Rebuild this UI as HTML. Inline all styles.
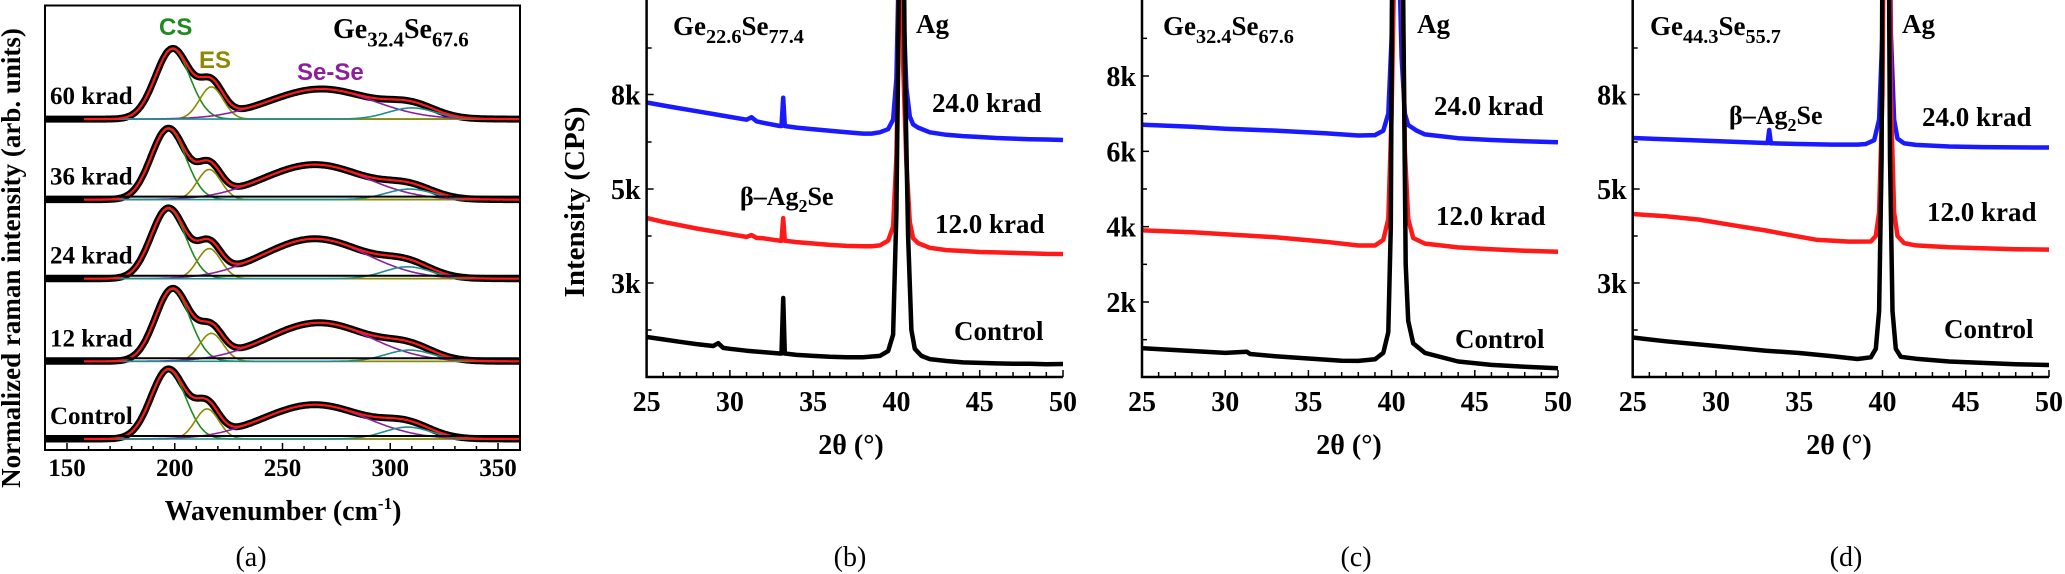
<!DOCTYPE html>
<html><head><meta charset="utf-8"><style>
html,body{margin:0;padding:0;background:#fff;}
svg{display:block;font-family:"Liberation Serif",serif;}
.b{font-weight:bold;}
</style></head><body>
<svg id="fig" width="2065" height="574" viewBox="0 0 2065 574" xmlns="http://www.w3.org/2000/svg"></svg>
<script>
// ---------- Panel (a) Raman data (Gaussian fit parameters) ----------
const ramanLabels=['60 krad','36 krad','24 krad','12 krad','Control'];
const ramanOffsets=[4.57,3.42,2.29,1.11,0];
const csCenter=[199,197,197,199,197];
const csHeight=[1.0,1.01,1.0,1.03,0.99];
const esCenter=[217,216,216,217,215];
const esHeight=[0.46,0.43,0.43,0.40,0.43];
const seCenter=[268,265,265,267,265];
const seHeight=[0.43,0.50,0.57,0.55,0.49];
const tCenter=[310,309,308,309,308];
const tHeight=[0.16,0.15,0.17,0.16,0.17];
const widths=[8,5.5,24,11];
const ramanTicks=[150,200,250,300,350];

// ---------- XRD data ----------
const bBlueX=[25,26,27,28,29,30,31,31.3,31.6,32,33,33.1,33.2,33.3,34,35,36,37,38,38.5,39,39.5,39.8,40.0,40.1,40.25,40.4,40.6,40.8,41.0,41.3,42,43,44,45,46,47,48,49,50];
const bBlueY=[7746,7650,7560,7470,7380,7290,7200,7280,7150,7100,7000,7000,7900,7000,6950,6900,6850,6800,6760,6760,6800,6900,7200,8500,11000,20000,11000,8200,7300,7050,6950,6800,6720,6680,6650,6620,6600,6580,6570,6556];
const bRedX=bBlueX;
const bRedY=[4383,4300,4230,4160,4100,4040,3980,4020,3960,3950,3900,3900,4380,3900,3870,3840,3810,3790,3780,3780,3800,3900,4200,6000,9000,20000,9000,5800,4300,3950,3850,3750,3700,3680,3660,3650,3640,3630,3620,3617];
const bBlackX=[25,26,27,28,29,29.3,29.6,30,31,32,33,33.1,33.2,33.3,34,35,36,37,38,39,39.5,39.8,40.0,40.1,40.3,40.5,40.7,40.9,41.1,41.5,42,43,44,45,46,47,48,49,50];
const bBlackY=[1851,1800,1750,1700,1660,1720,1620,1600,1560,1530,1500,1500,2681,1500,1470,1450,1430,1420,1420,1450,1550,1900,4500,9000,20000,9000,4000,2000,1600,1450,1380,1340,1310,1300,1290,1280,1280,1270,1277];

const cBlueX=[25,28,30,33,36,38,39,39.5,39.8,40.0,40.1,40.25,40.4,40.6,40.8,41.0,41.5,42,44,46,48,50];
const cBlueY=[6707,6650,6600,6550,6480,6420,6430,6550,7000,9000,12000,20000,12000,8500,7000,6700,6550,6450,6350,6300,6270,6240];
const cRedX=[25,28,30,33,36,38,39,39.5,39.8,40.0,40.2,40.4,40.6,40.8,41.0,41.3,42,44,46,48,50];
const cRedY=[3904,3850,3800,3720,3600,3500,3500,3650,4200,7000,12000,20000,12000,6000,4200,3700,3550,3450,3400,3360,3333];
const cBlackX=[25,28,30,31.3,31.5,33,35,37,38,39,39.5,39.8,39.95,40.05,40.15,40.6,40.7,40.85,41.0,41.3,42,44,46,48,50];
const cBlackY=[773,700,650,680,620,560,500,440,436,480,650,1200,4000,12000,20000,20000,10000,3000,1500,900,650,420,330,280,240];

const dBlueX=[25,28,31,33,33.1,33.2,33.3,35,37,38.5,39,39.5,39.8,40.0,40.15,40.35,40.5,40.7,40.9,41.3,42,44,46,48,50];
const dBlueY=[6619,6560,6500,6460,6460,6873,6450,6430,6410,6410,6430,6550,7200,10000,20000,20000,10000,7200,6600,6450,6400,6350,6330,6320,6317];
const dRedX=[25,27,29,31,33,34,36,38,39.3,39.6,39.8,40.0,40.15,40.35,40.5,40.7,40.9,41.3,42,44,46,48,50];
const dRedY=[4468,4420,4350,4230,4117,4050,3921,3880,3883,4000,4500,8000,20000,20000,8000,4500,4000,3850,3800,3760,3740,3720,3711];
const dBlackX=[25,27,30,33,35,37,38.5,39.3,39.6,39.8,39.95,40.05,40.3,40.45,40.6,40.8,41.1,42,44,46,48,50];
const dBlackY=[1840,1760,1660,1560,1510,1440,1383,1420,1600,2400,6000,20000,20000,6000,2400,1600,1430,1390,1330,1300,1270,1255];

const xTicks=[25,30,35,40,45,50];
const bTickVals=[3000,5000,8000];
const bTickLabels=['3k','5k','8k'];
const cTickVals=[2000,4000,6000,8000];
const cTickLabels=['2k','4k','6k','8k'];

const NS='http://www.w3.org/2000/svg';
const svg=document.getElementById('fig');
function mk(tag,attrs,parent){const e=document.createElementNS(NS,tag);for(const k in attrs)e.setAttribute(k,attrs[k]);(parent||svg).appendChild(e);return e;}
function txt(s,x,y,size,anchor,parent,cls,fill){const t=mk('text',{x:x,y:y,'font-size':size,'text-anchor':anchor||'start',fill:fill||'#000'},parent);if(cls)t.setAttribute('class',cls);t.textContent=s;return t;}
function formula(a,b,c,d,x,y,size,parent){
  const t=mk('text',{x:x,y:y,'font-size':size,'class':'b'},parent);
  const parts=[[a,0,size],[b,size*0.3,size*0.75],[c,-size*0.3,size],[d,size*0.3,size*0.75]];
  parts.forEach(p=>{const s=mk('tspan',{dy:p[1],'font-size':p[2]},t);s.textContent=p[0];});
  return t;
}

// ================= Panel (a) =================
const gA=mk('g',{});


const aL=45,aR=520,aT=5.5,aB=450,aBase=439,aUnit=70;
function xA(v){return 67+(v-150)*(498-67)/200;}
function yA(v){return aBase-v*aUnit;}
function gauss(x,c,h,w){return h*Math.exp(-(x-c)*(x-c)/(2*w*w));}
for(let i=0;i<ramanLabels.length;i++){
  const off=ramanOffsets[i];
  const comps=[[csCenter[i],csHeight[i],widths[0],'#1f8a1f'],[esCenter[i],esHeight[i],widths[1],'#8c8a00'],[seCenter[i],seHeight[i],widths[2],'#8e1f9c'],[tCenter[i],tHeight[i],widths[3],'#1f8e8e']];
  function total(x){let s=0;comps.forEach(c=>s+=gauss(x,c[0],c[1],c[2]));return s;}
  let d='';for(let x=140;x<=360;x+=0.5){d+=(x===140?'M':'L')+xA(x).toFixed(1)+','+yA(off+total(x)).toFixed(1);}
  const pb=mk('path',{d:d,fill:'none',stroke:'#000','stroke-width':7,'stroke-linejoin':'round'},gA);
  
  
  comps.forEach((c,j)=>{let dd='';for(let x=158;x<=360;x+=0.5){dd+=(x===158?'M':'L')+xA(x).toFixed(1)+','+yA(off+gauss(x,c[0],c[1],c[2])).toFixed(1);}
    const pc=mk('path',{d:dd,fill:'none',stroke:c[3],'stroke-width':1.6},gA);
    
    });
  let dr='';for(let x=158;x<=360;x+=0.5){dr+=(x===158?'M':'L')+xA(x).toFixed(1)+','+yA(off+total(x)).toFixed(1);}
  const pr=mk('path',{d:dr,fill:'none',stroke:'#ff1a1a','stroke-width':2.2},gA);
  
  
  const lb=txt(ramanLabels[i],50,yA(off)-15,25,'start',gA,'b');
  
  
  if(i>0){const sl=mk('line',{x1:aL,x2:aR,y1:yA(off+0.043),y2:yA(off+0.043),stroke:'#000','stroke-width':2},gA);
    
    }
}
const fa=mk('rect',{x:aL,y:aT,width:aR-aL,height:aB-aT,fill:'none',stroke:'#000','stroke-width':2},gA);


for(let v=150;v<=350;v+=10){const maj=ramanTicks.includes(v);mk('line',{x1:xA(v),x2:xA(v),y1:aB,y2:aB-(maj?7:4),stroke:'#000','stroke-width':1.5},gA);}
ramanTicks.forEach(v=>{const t=txt(String(v),xA(v),476,25,'middle',gA,'b');
  
  });
let t;
t=txt('CS',159,35,24,'start',gA,'b','#1f8a1f');t.setAttribute('font-family','Liberation Sans, sans-serif');


t=txt('ES',199,68,24,'start',gA,'b','#8c8a00');t.setAttribute('font-family','Liberation Sans, sans-serif');


t=txt('Se-Se',297,80,24,'start',gA,'b','#8e1f9c');t.setAttribute('font-family','Liberation Sans, sans-serif');


t=formula('Ge','32.4','Se','67.6',333,38,28,gA);


t=mk('text',{x:0,y:0,'font-size':27,'text-anchor':'middle','class':'b',transform:'translate(20,258) rotate(-90)'},gA);t.textContent='Normalized raman intensity (arb. units)';


t=mk('text',{x:283,y:520,'font-size':28,'text-anchor':'middle','class':'b'},gA);
const s1=mk('tspan',{},t);s1.textContent='Wavenumber (cm';
const s2=mk('tspan',{dy:-11,'font-size':17},t);s2.textContent='-1';
const s3=mk('tspan',{dy:11},t);s3.textContent=')';


t=txt('(a)',251,566,28,'middle',gA);



// ================= XRD panels =================
function piecewise(vals,pxs){return function(v){
  let i=0;if(v<=vals[0])i=0;else if(v>=vals[vals.length-1])i=vals.length-2;else{while(v>vals[i+1])i++;}
  return pxs[i]+(v-vals[i])*(pxs[i+1]-pxs[i])/(vals[i+1]-vals[i]);};}
function panel(name,L,R,bottom,yfun,tickVals,tickLabels,minorCount,series,labels,caption,captionX){
  const g=mk('g',{});
  
  
  const xs=v=>L+(v-25)*(R-L)/25;
  const cid=name+'-clip';
  const cp=mk('clipPath',{id:cid},g);mk('rect',{x:L,y:0,width:R-L+2,height:bottom},cp);
  const sg=mk('g',{'clip-path':'url(#'+cid+')'},g);
  series.forEach(s=>{let d='';s.x.forEach((xv,k)=>{d+=(k?'L':'M')+xs(xv).toFixed(1)+','+yfun(s.y[k]).toFixed(1);});
    const p=mk('path',{d:d,fill:'none',stroke:s.c,'stroke-width':4.5,'stroke-linejoin':'round'},sg);
    
    });
  const ax=mk('path',{d:'M'+L+',0 L'+L+','+bottom+' L'+R+','+bottom,fill:'none',stroke:'#000','stroke-width':2.5},g);
  
  
  for(let v=25;v<=50;v++){const maj=v%5===0;mk('line',{x1:xs(v),x2:xs(v),y1:bottom,y2:bottom-(maj?7:5),stroke:'#000','stroke-width':1.5},g);}
  xTicks.forEach(v=>{const tt=txt(String(v),xs(v),411,28,'middle',g,'b');
    
    });
  for(let k=0;k<tickVals.length;k++){
    const y=yfun(tickVals[k]);mk('line',{x1:L,x2:L+7,y1:y,y2:y,stroke:'#000','stroke-width':1.5},g);
    const tt=txt(tickLabels[k],L-6,y+10,28,'end',g,'b');
    
    
  }
  const y0=yfun(tickVals[0]),y1=yfun(tickVals[1]);const step=(y0-y1)/2;
  for(let y=y0+step;y<bottom;y+=step*2)mk('line',{x1:L,x2:L+5,y1:y,y2:y,stroke:'#000','stroke-width':1.5},g);
  for(let y=y0-step;y>0;y-=step*2)mk('line',{x1:L,x2:L+5,y1:y,y2:y,stroke:'#000','stroke-width':1.5},g);
  labels.forEach(l=>{let e;
    if(l.f){e=formula(l.f[0],l.f[1],l.f[2],l.f[3],l.x,l.y,27,g);}
    else if(l.beta){e=mk('text',{x:l.x,y:l.y,'font-size':26,'class':'b'},g);
      const a=mk('tspan',{},e);a.textContent='β–Ag';const b=mk('tspan',{dy:7,'font-size':18},e);b.textContent='2';const c=mk('tspan',{dy:-7},e);c.textContent='Se';}
    else e=txt(l.t,l.x,l.y,27,'start',g,'b');
    
    });
  const xt=txt('2θ (°)',captionX.t,454,28,'middle',g,'b');
  
  
  const cap=txt(caption,captionX.c,566,28,'middle',g);
  
  
}
const yB=piecewise([3000,5000,8000],[283,189,94.5]);
panel('xrd-panel-b',646.6,1063,377,yB,bTickVals,bTickLabels,1,
 [{x:bBlueX,y:bBlueY,c:'#1a1aff',n:'series-24krad'},{x:bRedX,y:bRedY,c:'#ff1a1a',n:'series-12krad'},{x:bBlackX,y:bBlackY,c:'#000',n:'series-control'}],
 [{f:['Ge','22.6','Se','77.4'],x:673,y:35,n:'composition-label'},{t:'Ag',x:916,y:33,n:'ag-label'},{t:'24.0 krad',x:932,y:112,n:'label-24krad'},
  {t:'12.0 krad',x:935,y:233,n:'label-12krad'},{t:'Control',x:954,y:340,n:'label-control'},{beta:1,x:740,y:205,n:'beta-ag2se-label'}],
 '(b)',{t:851,c:850});
const yC=piecewise([2000,8000],[302,76]);
panel('xrd-panel-c',1142,1558,377,yC,cTickVals,cTickLabels,1,
 [{x:cBlueX,y:cBlueY,c:'#1a1aff',n:'series-24krad'},{x:cRedX,y:cRedY,c:'#ff1a1a',n:'series-12krad'},{x:cBlackX,y:cBlackY,c:'#000',n:'series-control'}],
 [{f:['Ge','32.4','Se','67.6'],x:1163,y:35,n:'composition-label'},{t:'Ag',x:1417,y:33,n:'ag-label'},{t:'24.0 krad',x:1434,y:115,n:'label-24krad'},
  {t:'12.0 krad',x:1436,y:225,n:'label-12krad'},{t:'Control',x:1455,y:348,n:'label-control'}],
 '(c)',{t:1349,c:1356});
panel('xrd-panel-d',1632.7,2049,377,yB,bTickVals,bTickLabels,1,
 [{x:dBlueX,y:dBlueY,c:'#1a1aff',n:'series-24krad'},{x:dRedX,y:dRedY,c:'#ff1a1a',n:'series-12krad'},{x:dBlackX,y:dBlackY,c:'#000',n:'series-control'}],
 [{f:['Ge','44.3','Se','55.7'],x:1650,y:35,n:'composition-label'},{t:'Ag',x:1902,y:33,n:'ag-label'},{t:'24.0 krad',x:1922,y:126,n:'label-24krad'},
  {t:'12.0 krad',x:1927,y:221,n:'label-12krad'},{t:'Control',x:1944,y:338,n:'label-control'},{beta:1,x:1729,y:124,n:'beta-ag2se-label'}],
 '(d)',{t:1839,c:1846});
t=mk('text',{x:0,y:0,'font-size':29,'text-anchor':'middle','class':'b',transform:'translate(584,202) rotate(-90)'});t.textContent='Intensity (CPS)';


</script>
</body></html>
